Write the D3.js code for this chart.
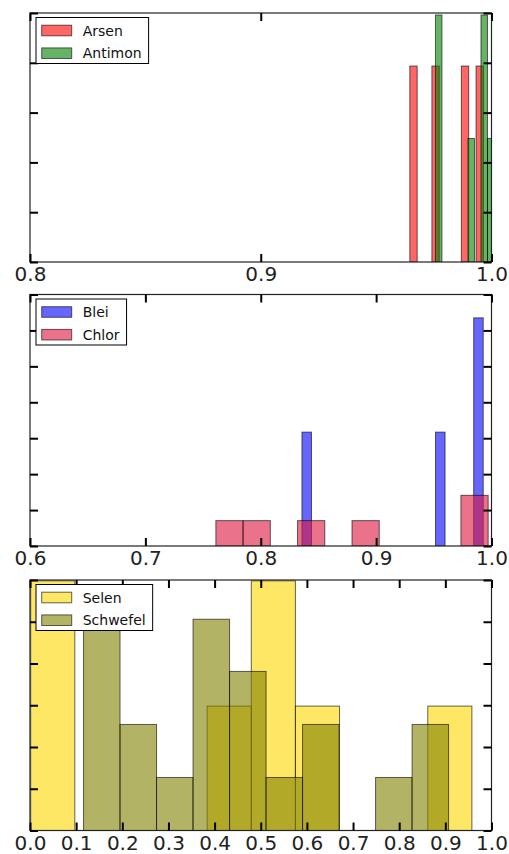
<!DOCTYPE html>
<html>
<head>
<meta charset="utf-8">
<script src="https://cdn.jsdelivr.net/npm/d3@7"></script>
<style>
  body { margin: 0; background: #fff; }
  svg text { font-family: "DejaVu Sans", sans-serif; }
</style>
</head>
<body>
<div id="chart"></div>
<script>
var svgWidth = 509;
var svgHeight = 854;

// histogram bins: first left edge, bin width, normed heights per bin
var arsenStart = 0.9646, arsenWidth = 0.00319;
var arsenHeights = [78.7, 0, 0, 78.7, 0, 0, 0, 78.7, 0, 78.7];
var antimonStart = 0.9757, antimonWidth = 0.00282;
var antimonHeights = [99.2, 0, 0, 0, 0, 49.6, 0, 99.2, 49.6, 0];

var bleiStart = 0.8357, bleiWidth = 0.00827;
var bleiHeights = [31.7, 0, 0, 0, 0, 0, 0, 0, 0, 0, 0, 0, 0, 0, 31.7, 0, 0, 0, 63.5, 0];
var chlorStart = 0.7611, chlorWidth = 0.0236;
var chlorHeights = [7.06, 7.06, 0, 7.06, 0, 7.06, 0, 0, 0, 14.1];

var selenStart = 0.0015, selenWidth = 0.0956;
var selenHeights = [2.99, 0, 0, 0, 1.49, 2.99, 1.49, 0, 0, 1.49];
var schwefelStart = 0.116, schwefelWidth = 0.0791;
var schwefelHeights = [2.54, 1.27, 0.635, 2.53, 1.905, 0.635, 1.27, 0, 0.635, 1.27];

var xDomains = [[0.8, 1.0], [0.6, 1.0], [0.0, 1.0]];
var yDomains = [[0, 100], [0, 70], [0, 3]];
var yTickSteps = [20, 10, 0.5];

var panels = [
  { top: 13, bottom: 262, series: [
    { name: "Arsen", color: "#ff0000", start: arsenStart, width: arsenWidth, heights: arsenHeights },
    { name: "Antimon", color: "#008000", start: antimonStart, width: antimonWidth, heights: antimonHeights }
  ]},
  { top: 294.5, bottom: 546, series: [
    { name: "Blei", color: "#0000ff", start: bleiStart, width: bleiWidth, heights: bleiHeights },
    { name: "Chlor", color: "#dc143c", start: chlorStart, width: chlorWidth, heights: chlorHeights }
  ]},
  { top: 580, bottom: 830.5, series: [
    { name: "Selen", color: "#ffd700", start: selenStart, width: selenWidth, heights: selenHeights },
    { name: "Schwefel", color: "#808000", start: schwefelStart, width: schwefelWidth, heights: schwefelHeights }
  ]}
];

var left = 30, right = 491.5;

var svg = d3.select("#chart")
  .append("svg")
  .attr("width", svgWidth)
  .attr("height", svgHeight);

panels.forEach(function (p, i) {
  var x = d3.scaleLinear().domain(xDomains[i]).range([left, right]);
  var y = d3.scaleLinear().domain(yDomains[i]).range([p.bottom, p.top]);
  var xt = d3.range(Math.round(xDomains[i][0] * 10), Math.round(xDomains[i][1] * 10) + 1).map(function (d) { return d / 10; });
  var yt = d3.range(0, yDomains[i][1] + 1e-9, yTickSteps[i]);

  var clipId = "clip" + i;
  svg.append("clipPath").attr("id", clipId)
    .append("rect")
    .attr("x", left).attr("y", p.top)
    .attr("width", right - left).attr("height", p.bottom - p.top);

  var g = svg.append("g").attr("clip-path", "url(#" + clipId + ")");

  p.series.forEach(function (s) {
    var bins = s.heights.map(function (h, k) {
      return { x0: s.start + k * s.width, x1: s.start + (k + 1) * s.width, h: h };
    }).filter(function (b) { return b.h > 0; });

    g.selectAll(null)
      .data(bins)
      .enter()
      .append("rect")
      .attr("x", function (d) { return x(d.x0); })
      .attr("width", function (d) { return x(d.x1) - x(d.x0); })
      .attr("y", function (d) { return y(d.h); })
      .attr("height", function (d) { return y(0) - y(d.h); })
      .attr("fill", s.color)
      .attr("fill-opacity", 0.6)
      .attr("stroke", "#000")
      .attr("stroke-opacity", 0.6)
      .attr("stroke-width", 1);
  });

  // frame
  svg.append("rect")
    .attr("x", left).attr("y", p.top)
    .attr("width", right - left).attr("height", p.bottom - p.top)
    .attr("fill", "none")
    .attr("stroke", "#222")
    .attr("stroke-width", 1.2);

  var bottomAxis = svg.append("g")
    .attr("transform", `translate(0, ${p.bottom})`)
    .call(d3.axisBottom(x).tickValues(xt).tickSizeInner(-8).tickSizeOuter(0).tickPadding(5).tickFormat(d3.format(".1f")));
  var topAxis = svg.append("g")
    .attr("transform", `translate(0, ${p.top})`)
    .call(d3.axisTop(x).tickValues(xt).tickSizeInner(-8).tickSizeOuter(0).tickFormat(""));
  var leftAxis = svg.append("g")
    .attr("transform", `translate(${left}, 0)`)
    .call(d3.axisLeft(y).tickValues(yt).tickSizeInner(-8).tickSizeOuter(0).tickFormat(""));
  var rightAxis = svg.append("g")
    .attr("transform", `translate(${right}, 0)`)
    .call(d3.axisRight(y).tickValues(yt).tickSizeInner(-8).tickSizeOuter(0).tickFormat(""));

  [bottomAxis, topAxis, leftAxis, rightAxis].forEach(function (a) {
    a.select(".domain").remove();
    a.selectAll(".tick line").attr("stroke", "#000").attr("stroke-width", 2);
  });
  bottomAxis.selectAll("text")
    .attr("font-size", 20)
    .attr("font-family", "DejaVu Sans")
    .attr("fill", "#222");

  // legend
  var lx = 36, ly = p.top + 4.5;
  var legend = svg.append("g");
  var box = legend.append("rect")
    .attr("x", lx).attr("y", ly)
    .attr("height", 46)
    .attr("fill", "#fff")
    .attr("stroke", "#000")
    .attr("stroke-width", 1);
  var maxW = 0;
  p.series.forEach(function (s, k) {
    legend.append("rect")
      .attr("x", lx + 5.7).attr("y", ly + 7.7 + k * 22.7)
      .attr("width", 30).attr("height", 10.6)
      .attr("fill", s.color).attr("fill-opacity", 0.6)
      .attr("stroke", "#000").attr("stroke-opacity", 0.6);
    var t = legend.append("text")
      .attr("x", lx + 46.7).attr("y", ly + 18 + k * 22.7)
      .attr("font-size", 14)
      .attr("fill", "#111")
      .text(s.name);
    maxW = Math.max(maxW, t.node().getComputedTextLength());
  });
  box.attr("width", 46.7 + maxW + 7);
});
</script>
</body>
</html>
